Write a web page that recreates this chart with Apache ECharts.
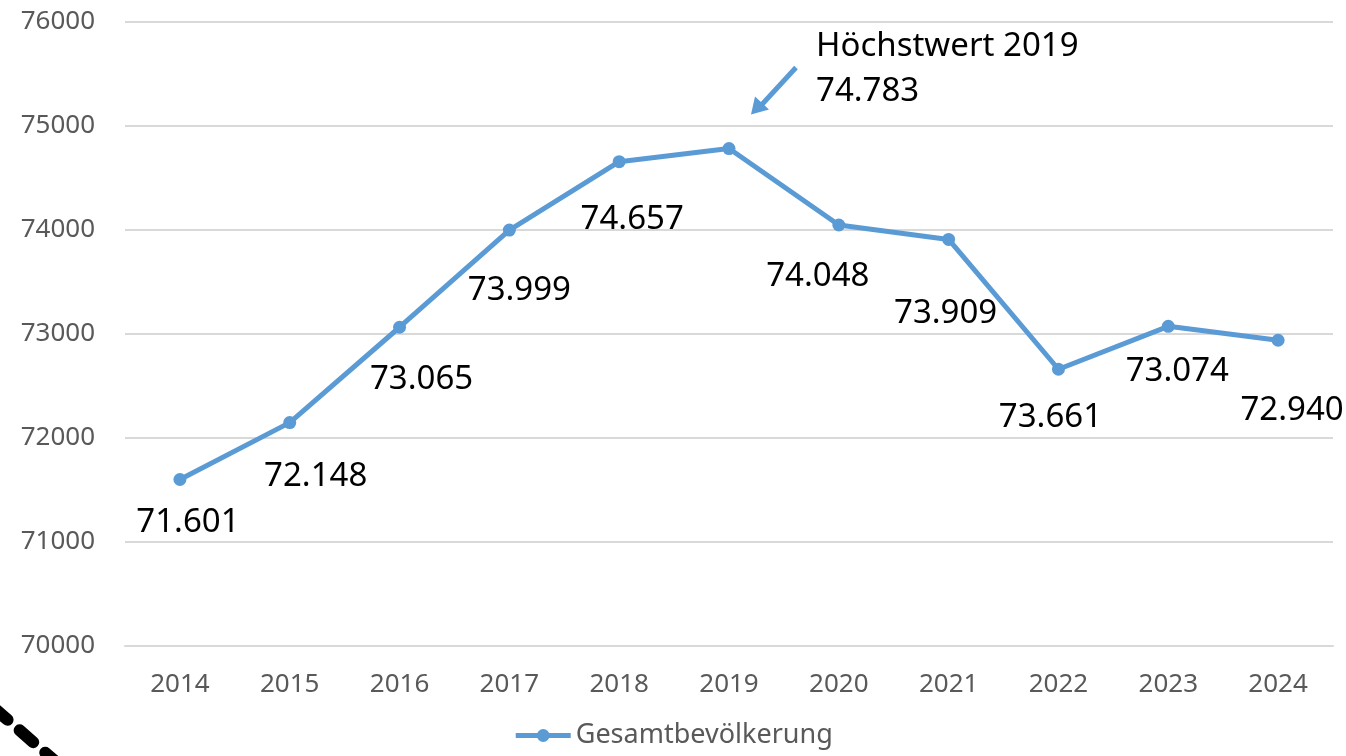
<!DOCTYPE html>
<html>
<head>
<meta charset="utf-8">
<script src="https://cdn.jsdelivr.net/npm/echarts@6/dist/echarts.min.js"></script>
<style>
  html, body { margin: 0; padding: 0; background: #fff; }
  #main { width: 1346px; height: 756px; }
</style>
</head>
<body>
<div id="main"></div>
<script>
// Daten
var years = ['2014','2015','2016','2017','2018','2019','2020','2021','2022','2023','2024'];
var population = [71601, 72148, 73065, 73999, 74657, 74783, 74048, 73909, 72661, 73074, 72940];
// Beschriftungen wie im Original (2022 steht dort als 73.661)
var labelTexts = ['71.601','72.148','73.065','73.999','74.657','','74.048','73.909','73.661','73.074','72.940'];
var labelOffsets = [[8,15],[26,26],[22,24],[10,32],[13,30],[0,0],[-21,24],[-3,46],[-8,20],[9,17],[14,42]];
var yTicks = [70000, 71000, 72000, 73000, 74000, 75000, 76000];
var peakText = ['Höchstwert 2019', '74.783'];

var myChart = echarts.init(document.getElementById('main'));
var blue = '#5B9BD5';
var font = 'Noto Sans';

var seriesData = population.map(function (v, i) {
    return {
        value: v,
        label: {
            show: labelTexts[i] !== '',
            offset: labelOffsets[i],
            formatter: labelTexts[i]
        }
    };
});

var option = {
    animation: false,
    textStyle: { fontFamily: font },
    grid: { left: 125, right: 13, top: 22, bottom: 110 },
    legend: {
        bottom: 2,
        left: 'center',
        itemWidth: 55,
        itemHeight: 16,
        itemGap: 4,
        lineStyle: { width: 5 },
        textStyle: { fontSize: 27, color: '#595959', fontFamily: font },
        data: ['Gesamtbevölkerung']
    },
    xAxis: {
        type: 'category',
        data: years,
        boundaryGap: true,
        axisLine: { lineStyle: { color: '#D9D9D9', width: 2 } },
        axisTick: { show: false },
        axisLabel: { fontSize: 26, color: '#595959', margin: 26 }
    },
    yAxis: {
        type: 'value',
        min: yTicks[0],
        max: yTicks[yTicks.length - 1],
        interval: 1000,
        axisLine: { show: false },
        axisTick: { show: false },
        splitLine: { lineStyle: { color: '#D9D9D9', width: 2 } },
        axisLabel: {
            fontSize: 26, color: '#595959', margin: 30,
            formatter: function (v) { return String(v); }
        }
    },
    series: [{
        name: 'Gesamtbevölkerung',
        type: 'line',
        data: seriesData,
        symbol: 'circle',
        symbolSize: 13,
        color: blue,
        lineStyle: { width: 5, color: blue },
        itemStyle: { color: blue },
        label: {
            position: 'bottom',
            distance: 5,
            fontSize: 33,
            color: '#000',
            fontFamily: font
        }
    }]
};
myChart.setOption(option);

// Anmerkung Höchstwert + Pfeil, relativ zum Punkt 2019
var peak = myChart.convertToPixel({ seriesIndex: 0 }, ['2019', population[5]]);
myChart.setOption({
    graphic: [
        {
            type: 'text',
            left: peak[0] + 87,
            top: peak[1] - 124,
            style: {
                text: peakText.join('\n'),
                font: '33px "Noto Sans"',
                fill: '#000',
                lineHeight: 45
            }
        },
        {
            type: 'line',
            shape: { x1: peak[0] + 67, y1: peak[1] - 81, x2: peak[0] + 32, y2: peak[1] - 43 },
            style: { stroke: blue, lineWidth: 5 }
        },
        {
            type: 'polygon',
            shape: { points: [[peak[0] + 22, peak[1] - 34], [peak[0] + 26, peak[1] - 52], [peak[0] + 40, peak[1] - 39]] },
            style: { fill: blue }
        },
        // schwarzer Strich unten links
        {
            type: 'line',
            shape: { x1: -6, y1: 708, x2: 56, y2: 762 },
            style: { stroke: '#000', lineWidth: 12, lineDash: [18, 16], lineCap: 'round' }
        }
    ]
});
</script>
</body>
</html>
